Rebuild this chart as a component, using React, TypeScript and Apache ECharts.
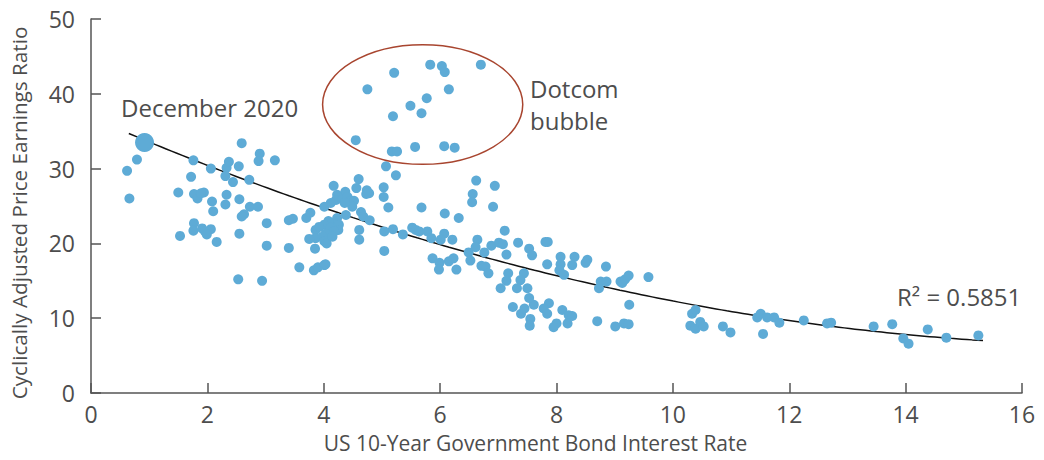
import React, { useEffect, useRef } from "react";
import * as echarts from "echarts";

// ---- data (x = US 10y yield %, y = CAPE) ----
const X_TICKS = [0, 2, 4, 6, 8, 10, 12, 14, 16];
const Y_TICKS = [0, 10, 20, 30, 40, 50];

const DEC_2020: [number, number] = [0.92, 33.5];

const POINTS_LOW_RATE: [number, number][] = [
  [0.79, 31.2], [0.62, 29.7], [0.66, 26.0],
  [1.76, 31.1], [1.72, 28.9], [1.5, 26.8], [1.77, 26.6], [1.83, 26.0], [1.94, 26.8], [1.89, 26.7],
  [2.08, 25.6], [2.1, 24.3], [2.06, 30.0], [2.33, 30.1], [2.37, 30.9], [2.31, 29.0], [2.44, 28.2],
  [2.54, 30.3], [2.59, 33.4], [2.72, 28.5], [2.9, 32.0], [2.88, 31.0], [3.16, 31.1],
  [2.33, 26.5], [2.31, 25.2], [2.55, 25.9], [2.73, 24.9], [2.87, 24.9], [2.63, 23.9], [2.59, 23.6], [3.02, 22.7],
  [1.77, 22.7], [1.76, 21.7], [1.53, 21.0], [1.91, 22.0], [1.96, 21.6], [2.06, 21.9], [1.99, 21.2],
  [2.16, 20.2], [2.55, 21.3], [3.02, 19.7],
  [3.4, 23.1], [3.47, 23.3], [3.4, 19.4], [3.7, 23.4], [3.77, 24.1], [3.58, 16.8], [3.83, 16.4],
  [3.9, 16.8], [4.01, 17.1], [4.03, 17.2], [2.53, 15.2], [2.94, 15.0],
  [3.86, 21.8], [3.86, 20.7], [3.75, 20.6], [3.85, 19.3],
];

const POINTS_MID_RATE: [number, number][] = [
  [4.6, 28.6], [5.24, 29.1], [4.17, 27.7], [4.56, 27.4], [4.74, 27.1], [4.78, 26.7], [4.73, 26.6],
  [5.03, 27.5], [5.03, 26.2], [4.37, 26.9], [4.23, 26.5], [4.21, 25.8], [4.32, 25.9], [4.41, 26.2],
  [4.46, 25.7], [4.52, 25.7], [4.49, 24.9], [4.36, 25.4], [4.12, 25.4], [4.01, 24.9], [5.11, 24.8],
  [4.38, 23.8], [4.64, 24.2], [4.68, 23.6], [4.79, 23.1],
  [4.23, 23.4], [4.19, 22.8], [4.08, 23.0], [4.01, 22.5], [3.92, 22.2], [4.12, 22.1], [4.26, 22.5],
  [4.25, 21.8], [4.18, 21.6], [4.11, 21.1], [4.03, 21.3], [3.98, 20.9], [4.01, 20.3], [4.05, 20.0], [4.15, 20.9],
  [4.61, 21.8], [4.61, 20.5], [5.04, 21.6], [5.19, 21.9], [5.36, 21.2], [5.52, 22.1], [5.58, 21.8],
  [5.64, 21.6], [5.04, 19.0],
];

const POINTS_DOTCOM: [number, number][] = [
  [5.21, 42.8], [5.83, 43.9], [6.03, 43.7], [6.08, 42.9], [6.7, 43.9], [4.75, 40.6], [6.15, 40.6],
  [5.77, 39.4], [5.49, 38.4], [5.68, 37.4], [5.19, 37.0], [4.55, 33.8], [5.17, 32.3], [5.26, 32.3],
  [5.57, 32.9], [6.07, 33.0], [6.25, 32.8], [5.07, 30.3],
];

const POINTS_UPPER_MID: [number, number][] = [
  [6.62, 28.4], [6.94, 27.7], [6.56, 26.6], [6.55, 25.5], [6.91, 24.9], [5.68, 24.8], [6.08, 24.0], [6.32, 23.4],
  [5.78, 21.6], [5.85, 20.7], [6.07, 21.3], [6.01, 20.5], [6.21, 20.5], [7.11, 21.7], [6.64, 20.5],
  [6.61, 19.5], [6.88, 19.7], [7.01, 20.1], [7.08, 19.9], [7.34, 20.1], [7.53, 19.3], [7.58, 18.4],
  [6.49, 18.8], [6.52, 17.7], [6.76, 18.8], [7.14, 18.5], [5.87, 18.0], [5.99, 17.4], [5.98, 16.5],
  [6.15, 17.6], [6.23, 18.0], [6.28, 16.5], [6.71, 17.0], [6.78, 16.9], [6.83, 16.0], [7.17, 16.0],
  [7.14, 15.0], [7.44, 16.0], [7.38, 15.1], [7.04, 14.0], [7.32, 14.0], [7.5, 14.0],
  [7.25, 11.5], [7.39, 10.6], [7.45, 11.3], [7.55, 9.9], [7.54, 9.0], [7.61, 11.8], [7.53, 12.7],
];

const POINTS_HIGH_RATE: [number, number][] = [
  [7.81, 20.2], [7.85, 20.2], [7.84, 17.2], [8.07, 18.2], [8.07, 17.2], [8.05, 16.4], [8.13, 15.8],
  [8.31, 18.2], [8.27, 17.1], [8.53, 17.8], [8.5, 17.4], [8.85, 16.9], [8.76, 14.9], [8.86, 14.9],
  [8.73, 14.0], [9.1, 14.9],
  [7.87, 12.0], [7.78, 11.3], [7.84, 10.6], [8.1, 11.1], [8.21, 10.4], [8.27, 10.3], [8.19, 9.3],
  [8.0, 9.3], [7.95, 8.8], [8.7, 9.6], [9.01, 8.9],
  [9.13, 14.7], [9.18, 15.2], [9.24, 15.7], [9.58, 15.5], [9.25, 11.8], [9.16, 9.3], [9.24, 9.2],
  [10.33, 10.6], [10.39, 11.1], [10.3, 9.0], [10.39, 8.6], [10.47, 9.5], [10.53, 8.9], [10.86, 8.9], [10.99, 8.1],
  [11.45, 10.1], [11.51, 10.6], [11.62, 10.1], [11.74, 10.1], [11.83, 9.4], [11.55, 7.9], [12.25, 9.7],
  [12.65, 9.3], [12.72, 9.4], [13.45, 8.9], [13.77, 9.2], [13.96, 7.3], [14.05, 6.6], [14.38, 8.5],
  [14.7, 7.4], [15.25, 7.7],
];

// Polynomial (order 2) trendline: y = c0 + c1 x + c2 x^2
const TREND_COEF = [36.88, -3.414, 0.0956];
const TREND_RANGE = [0.65, 15.33];
const R2_LABEL = "R² = 0.5851";

// Dotcom bubble ellipse (data units): centre x, centre y, radius x, radius y
const DOTCOM_ELLIPSE = [5.7, 38.57, 1.72, 8.0];

const FONT = '"Open Sans", "Noto Sans", sans-serif';
const TEXT = "#4d4d4d";
const AXIS = "#555555";
const DOT = "#5eabd6";

export default function App() {
  const ref = useRef<HTMLDivElement>(null);

  useEffect(() => {
    if (!ref.current) return;
    const chart = echarts.init(ref.current, undefined, { renderer: "svg" });

    const trend: [number, number][] = [];
    const steps = 80;
    for (let i = 0; i <= steps; i++) {
      const x = TREND_RANGE[0] + ((TREND_RANGE[1] - TREND_RANGE[0]) * i) / steps;
      trend.push([x, TREND_COEF[0] + TREND_COEF[1] * x + TREND_COEF[2] * x * x]);
    }

    const all = [
      ...POINTS_LOW_RATE,
      ...POINTS_MID_RATE,
      ...POINTS_DOTCOM,
      ...POINTS_UPPER_MID,
      ...POINTS_HIGH_RATE,
    ];

    const axisCommon = {
      type: "value" as const,
      axisLine: { show: true, lineStyle: { color: AXIS, width: 1.5 } },
      axisTick: { show: true, inside: true, length: 10, lineStyle: { color: AXIS, width: 1.5 } },
      splitLine: { show: false },
    };

    chart.setOption({
      animation: false,
      grid: { left: 90, right: 22, top: 19, bottom: 67, containLabel: false },
      xAxis: {
        ...axisCommon,
        min: X_TICKS[0],
        max: X_TICKS[X_TICKS.length - 1],
        interval: X_TICKS[1] - X_TICKS[0],
        axisLabel: { color: TEXT, fontSize: 23, fontFamily: FONT, margin: 9 },
        name: "US 10-Year Government Bond Interest Rate",
        nameLocation: "middle",
        nameGap: 39,
        nameTextStyle: { color: TEXT, fontSize: 21, fontFamily: FONT, padding: [0, 42, 0, 0] },
      },
      yAxis: {
        ...axisCommon,
        min: Y_TICKS[0],
        max: Y_TICKS[Y_TICKS.length - 1],
        interval: Y_TICKS[1] - Y_TICKS[0],
        axisLabel: { color: TEXT, fontSize: 23, fontFamily: FONT, margin: 16 },
        name: "Cyclically Adjusted Price Earnings Ratio",
        nameLocation: "middle",
        nameGap: 62,
        nameTextStyle: { color: TEXT, fontSize: 20.7, fontFamily: FONT, padding: [0, 14, 0, 0] },
      },
      series: [
        {
          type: "line",
          data: trend,
          showSymbol: false,
          symbol: "none",
          smooth: true,
          lineStyle: { color: "#111", width: 1.5 },
          z: 1,
          silent: true,
        },
        {
          type: "scatter",
          data: all,
          symbolSize: 10,
          itemStyle: { color: DOT, opacity: 1 },
          z: 2,
        },
        {
          type: "scatter",
          data: [DEC_2020],
          symbolSize: 19,
          itemStyle: { color: DOT, opacity: 1 },
          z: 3,
        },
      ],
    });

    const c = chart.convertToPixel({ gridIndex: 0 }, [DOTCOM_ELLIPSE[0], DOTCOM_ELLIPSE[1]]) as number[];
    const e = chart.convertToPixel({ gridIndex: 0 }, [
      DOTCOM_ELLIPSE[0] + DOTCOM_ELLIPSE[2],
      DOTCOM_ELLIPSE[1] + DOTCOM_ELLIPSE[3],
    ]) as number[];
    const rx = Math.abs(e[0] - c[0]);
    const ry = Math.abs(e[1] - c[1]);

    const textStyle = (text: string, x: number, y: number) => ({
      type: "text",
      x,
      y,
      style: {
        text,
        fill: TEXT,
        font: `24px ${FONT}`,
        align: "left",
        verticalAlign: "middle",
      },
      z: 10,
    });

    chart.setOption({
      graphic: [
        {
          type: "ellipse",
          shape: { cx: c[0], cy: c[1], rx, ry },
          style: { fill: "none", stroke: "#a8452f", lineWidth: 1.5 },
          z: 5,
        },
        textStyle("December 2020", 121, 107),
        textStyle("Dotcom", 530, 88),
        textStyle("bubble", 530, 120),
        textStyle(R2_LABEL, 897, 296),
      ],
    });

    return () => chart.dispose();
  }, []);

  return (
    <div
      ref={ref}
      style={{ position: "absolute", left: 0, top: 0, width: 1044, height: 460 }}
    />
  );
}
